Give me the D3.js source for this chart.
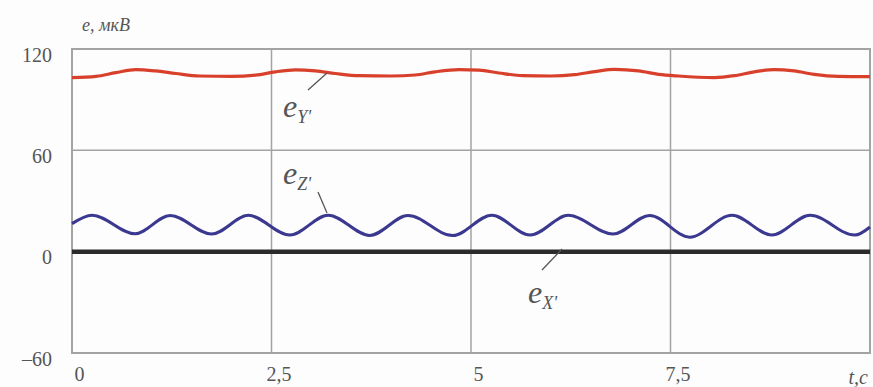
<!DOCTYPE html>
<html>
<head>
<meta charset="utf-8">
<script src="https://cdn.jsdelivr.net/npm/d3@7"></script>
<style>
    body { margin: 0; background: #fdfdfd; }
    svg { display: block; }
</style>
</head>
<body>
<div id="chart"></div>
<script>
// time axis ticks and labels
var xTicks = [0, 2.5, 5, 7.5];
var xTickLabels = ["0", "2,5", "5", "7,5"];
var yTicks = [120, 60, 0, -60];
var yTickLabels = ["120", "60", "0", "\u201360"];

// e_Y' (red)
var redT = [0, 0.3, 0.55, 0.8, 1.05, 1.3, 1.6, 2.0, 2.3, 2.55, 2.8, 3.05, 3.3, 3.6, 4.0, 4.3, 4.55, 4.85,
    5.1, 5.35, 5.65, 6.0, 6.3, 6.55, 6.8, 7.1, 7.35, 7.6, 8.05, 8.3, 8.55, 8.8, 9.05, 9.3, 9.6, 10];
var redV = [103.0, 103.8, 106.0, 107.8, 107.0, 105.5, 104.0, 103.8, 104.5, 106.5, 107.6, 107.0, 105.5, 104.2, 104.0, 104.6, 106.5, 107.8,
    107.5, 105.8, 104.2, 104.0, 104.8, 106.6, 107.9, 107.0, 105.0, 104.0, 103.1, 104.2, 106.5, 107.8, 107.0, 105.0, 103.8, 103.6];

// e_Z' (blue)
var blueT = [0, 0.25, 0.79, 1.23, 1.75, 2.21, 2.73, 3.21, 3.73, 4.21, 4.77, 5.26, 5.74, 6.22, 6.78,
    7.24, 7.74, 8.27, 8.77, 9.25, 9.81, 10];
var blueV = [16.6, 21.6, 10.6, 21.4, 10.4, 21.5, 9.8, 21.6, 9.6, 21.4, 9.5, 21.6, 9.8, 21.5, 10.4,
    21.4, 8.6, 21.5, 9.9, 21.6, 9.8, 14.6];

// e_X' (black)
var blackT = [0, 10];
var blackV = [0, 0];

var serif = "'Times New Roman', 'Liberation Serif', Tinos, 'DejaVu Serif', serif";
var textCol = "#555";

var w = 873, h = 387;
var svg = d3.select("#chart").append("svg").attr("width", w).attr("height", h);

var x = d3.scaleLinear().domain([0, 10]).range([72, 870]);
var y = d3.scaleLinear().domain([-60, 120]).range([353, 49]);

function pts(ts, vs) {
    return ts.map(function(t, i) { return [t, vs[i]]; });
}

// grid
var grid = svg.append("g").attr("stroke", "#a3a3a3").attr("stroke-width", 1.5);
xTicks.slice(1).forEach(function(t) {
    grid.append("line").attr("x1", x(t)).attr("x2", x(t)).attr("y1", y(120)).attr("y2", y(-60));
});
[60, 0].forEach(function(v) {
    grid.append("line").attr("x1", x(0)).attr("x2", x(10)).attr("y1", y(v)).attr("y2", y(v));
});
svg.append("rect")
    .attr("x", x(0)).attr("y", y(120))
    .attr("width", x(10) - x(0)).attr("height", y(-60) - y(120))
    .attr("fill", "none").attr("stroke", "#a3a3a3").attr("stroke-width", 2);

// axes labels
var xAxis = d3.axisBottom(x).tickValues(xTicks)
    .tickFormat(function(d, i) { return xTickLabels[i]; })
    .tickSize(0).tickPadding(14);
var gx = svg.append("g").attr("transform", "translate(0," + y(-60) + ")").call(xAxis)
    .attr("font-family", serif).attr("font-size", 20);
gx.select(".domain").remove();
gx.selectAll("text").attr("dx", 7).style("fill", textCol);

var yAxis = d3.axisLeft(y).tickValues(yTicks)
    .tickFormat(function(d, i) { return yTickLabels[i]; })
    .tickSize(0).tickPadding(20);
var gy = svg.append("g").attr("transform", "translate(" + x(0) + ",0)").call(yAxis)
    .attr("font-family", serif).attr("font-size", 20);
gy.select(".domain").remove();
gy.selectAll("text").attr("dy", "0.6em").style("fill", textCol);

svg.append("text").attr("x", 82).attr("y", 31)
    .attr("font-family", serif).attr("font-style", "italic").attr("font-size", 18)
    .attr("fill", textCol).text("e, мкВ");
svg.append("text").attr("x", 868).attr("y", 384).attr("text-anchor", "end")
    .attr("font-family", serif).attr("font-style", "italic").attr("font-size", 20)
    .attr("fill", textCol).text("t,c");

// series
var line = d3.line().x(function(d) { return x(d[0]); }).y(function(d) { return y(d[1]); });

svg.append("path").datum(pts(blackT, blackV))
    .attr("d", line).attr("fill", "none").attr("stroke", "#2b2b2b").attr("stroke-width", 4.5);

svg.append("path").datum(pts(blueT, blueV))
    .attr("d", line.curve(d3.curveMonotoneX)).attr("fill", "none")
    .attr("stroke", "#3b3890").attr("stroke-width", 3);

svg.append("path").datum(pts(redT, redV))
    .attr("d", line.curve(d3.curveMonotoneX)).attr("fill", "none")
    .attr("stroke", "#d8402c").attr("stroke-width", 3.2);

// annotations
var notes = [
    { sub: "Y'", tx: 283, ty: 117, x1: 327, y1: 73, x2: 308, y2: 90 },
    { sub: "Z'", tx: 283, ty: 184, x1: 318, y1: 192, x2: 327, y2: 213 },
    { sub: "X'", tx: 528, ty: 303, x1: 562, y1: 249, x2: 542, y2: 270 }
];
notes.forEach(function(n) {
    svg.append("line").attr("x1", n.x1).attr("y1", n.y1).attr("x2", n.x2).attr("y2", n.y2)
        .attr("stroke", "#555").attr("stroke-width", 1.3);
    var t = svg.append("text").attr("x", n.tx).attr("y", n.ty)
        .attr("font-family", serif).attr("font-style", "italic").attr("font-size", 32)
        .attr("fill", textCol);
    t.append("tspan").text("e");
    t.append("tspan").attr("font-size", 18).attr("dy", 6).text(n.sub);
});
</script>
</body>
</html>
